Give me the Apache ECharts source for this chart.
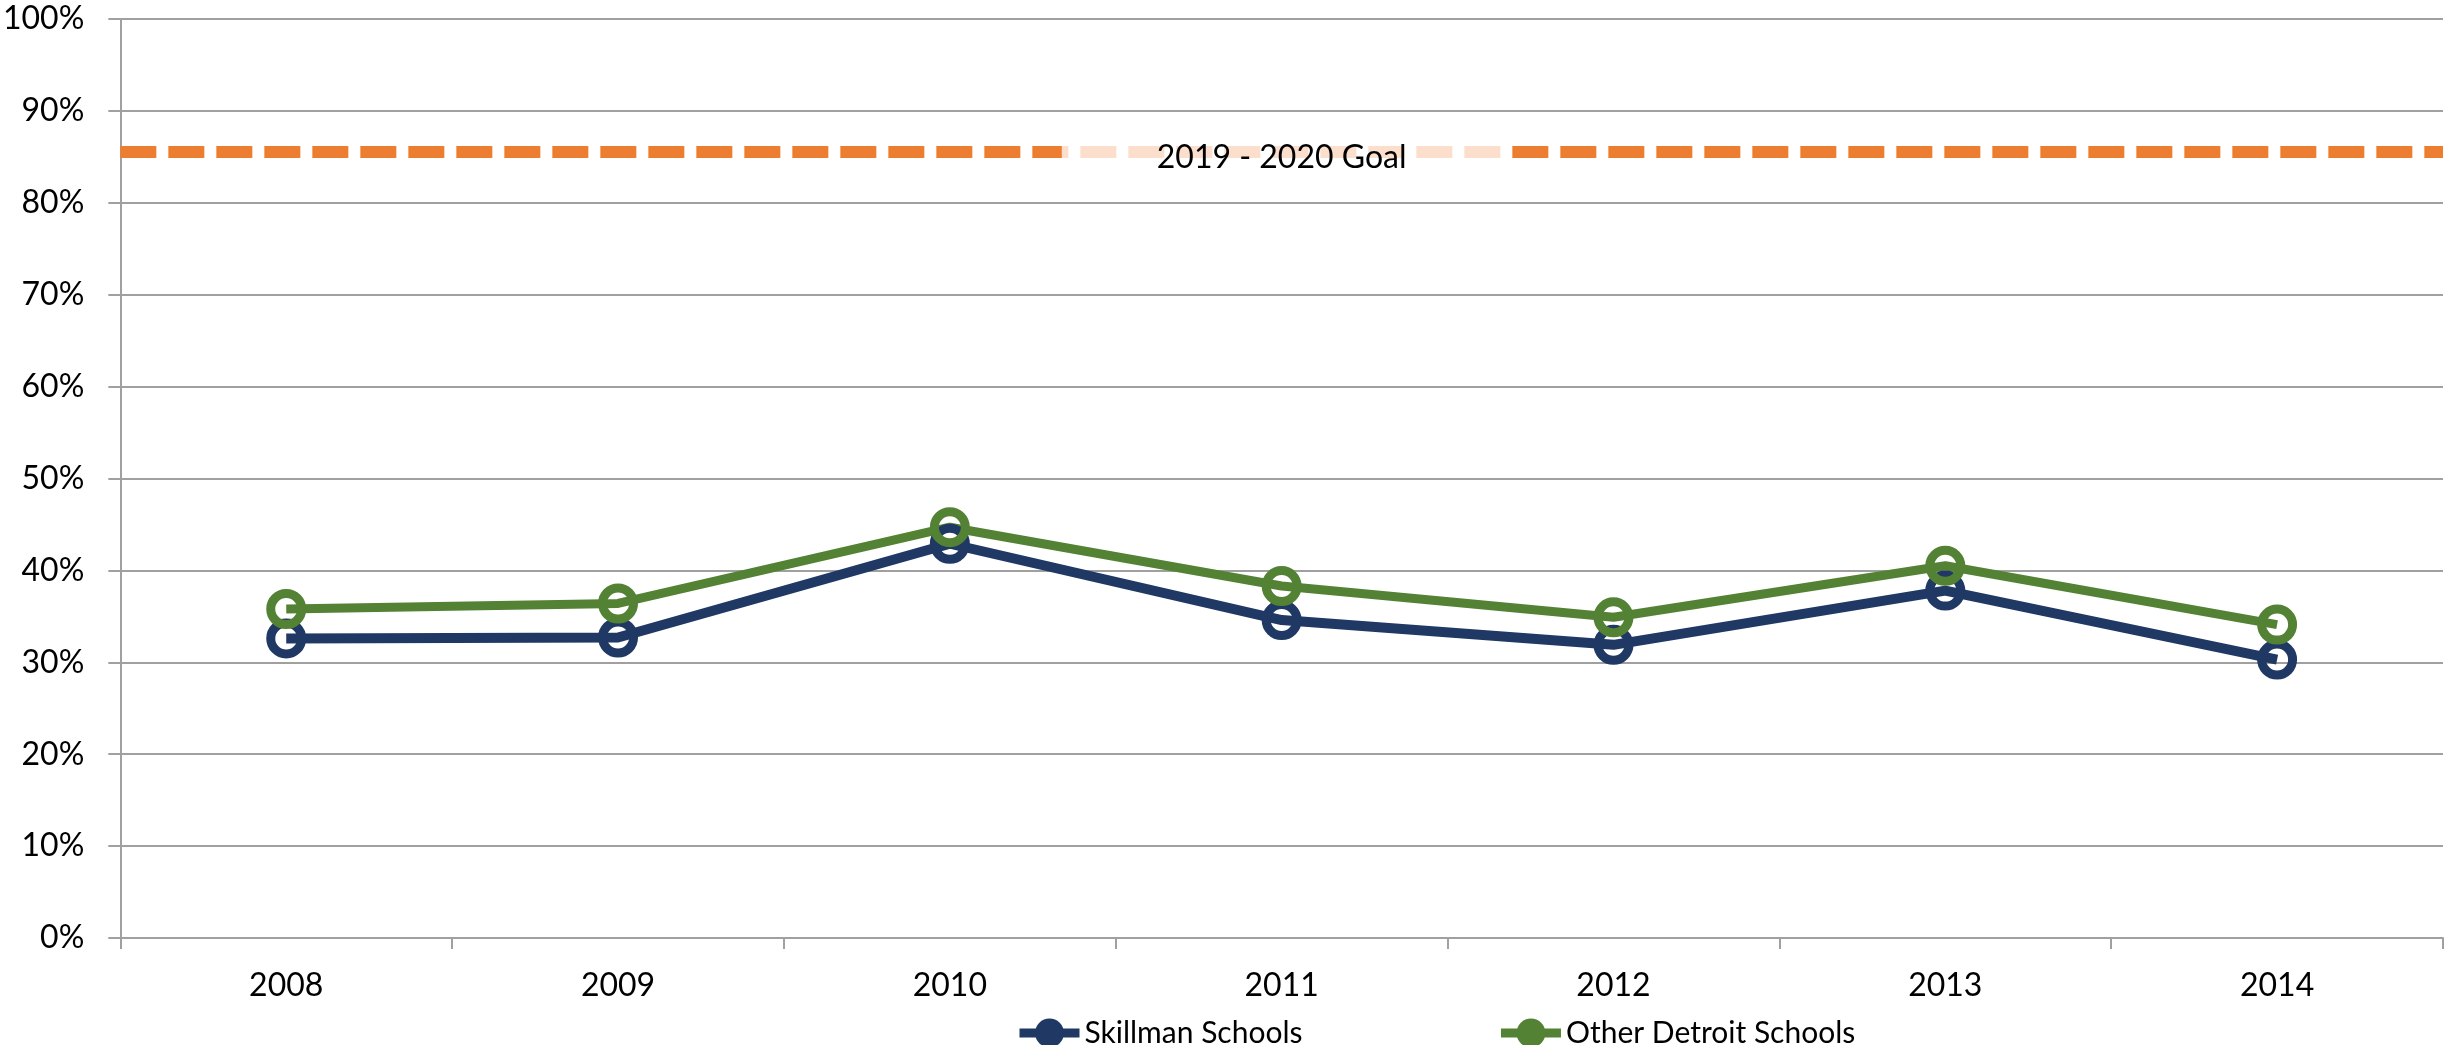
<!DOCTYPE html>
<html>
<head>
<meta charset="utf-8">
<script src="https://cdn.jsdelivr.net/npm/echarts@6/dist/echarts.min.js"></script>
<style>
  html, body { margin: 0; padding: 0; background: #fff; }
  #chart { width: 2458px; height: 1045px; }
</style>
</head>
<body>
<div id="chart"></div>
<script>
var years = ['2008', '2009', '2010', '2011', '2012', '2013', '2014'];
var skillman = [32.6, 32.7, 42.9, 34.6, 31.9, 37.8, 30.3];
var otherDetroit = [35.8, 36.4, 44.7, 38.3, 34.9, 40.5, 34.1];
var goalValue = 85.6;
var goalLabel = '2019 - 2020 Goal';

var navy = '#1f3864';
var green = '#548235';
var orange = '#ed7d31';
var gridGray = '#a0a0a0';

var chart = echarts.init(document.getElementById('chart'));

var option = {
  animation: false,
  textStyle: { fontFamily: 'Lato' },
  grid: { left: 119, right: 15, top: 19, bottom: 107 },
  legend: {
    left: 1010,
    top: 1013,
    itemWidth: 60,
    itemHeight: 36,
    itemGap: 194,
    textStyle: { fontSize: 30, color: '#000', fontFamily: 'Lato' },
    data: [
      {
        name: 'Skillman Schools',
        itemStyle: { color: navy, borderWidth: 0 },
        lineStyle: { color: navy, width: 9 }
      },
      {
        name: 'Other Detroit Schools',
        itemStyle: { color: green, borderWidth: 0 },
        lineStyle: { color: green, width: 9 }
      }
    ]
  },
  xAxis: {
    type: 'category',
    data: years,
    boundaryGap: true,
    axisLine: { lineStyle: { color: gridGray, width: 2 } },
    axisTick: { show: true, length: 11, lineStyle: { color: gridGray, width: 2 } },
    axisLabel: { fontSize: 32, color: '#000', margin: 32 }
  },
  yAxis: {
    type: 'value',
    min: 0,
    max: 100,
    interval: 10,
    axisLine: { show: true, lineStyle: { color: gridGray, width: 2 } },
    axisTick: { show: true, length: 12, lineStyle: { color: gridGray, width: 2 } },
    splitLine: { lineStyle: { color: gridGray, width: 2 } },
    axisLabel: { formatter: '{value}%', fontSize: 32, color: '#000', margin: 36 }
  },
  series: [
    {
      name: 'Skillman Schools',
      type: 'line',
      data: skillman,
      symbol: 'circle',
      symbolSize: 31,
      lineStyle: { color: navy, width: 10 },
      itemStyle: { color: 'rgba(0,0,0,0)', borderColor: navy, borderWidth: 9 },
      markLine: {
        silent: true,
        symbol: ['none', 'none'],
        lineStyle: { color: orange, width: 12, type: [36, 12] },
        label: {
          show: true,
          position: 'middle',
          distance: -25,
          formatter: goalLabel,
          fontSize: 32,
          color: '#000',
          fontFamily: 'Lato',
          backgroundColor: 'rgba(255,255,255,0.75)',
          padding: [9, 95, 3, 95]
        },
        data: [{ yAxis: goalValue }]
      }
    },
    {
      name: 'Other Detroit Schools',
      type: 'line',
      data: otherDetroit,
      symbol: 'circle',
      symbolSize: 31,
      lineStyle: { color: green, width: 9 },
      itemStyle: { color: 'rgba(0,0,0,0)', borderColor: green, borderWidth: 9 }
    }
  ]
};

chart.setOption(option);
</script>
</body>
</html>
